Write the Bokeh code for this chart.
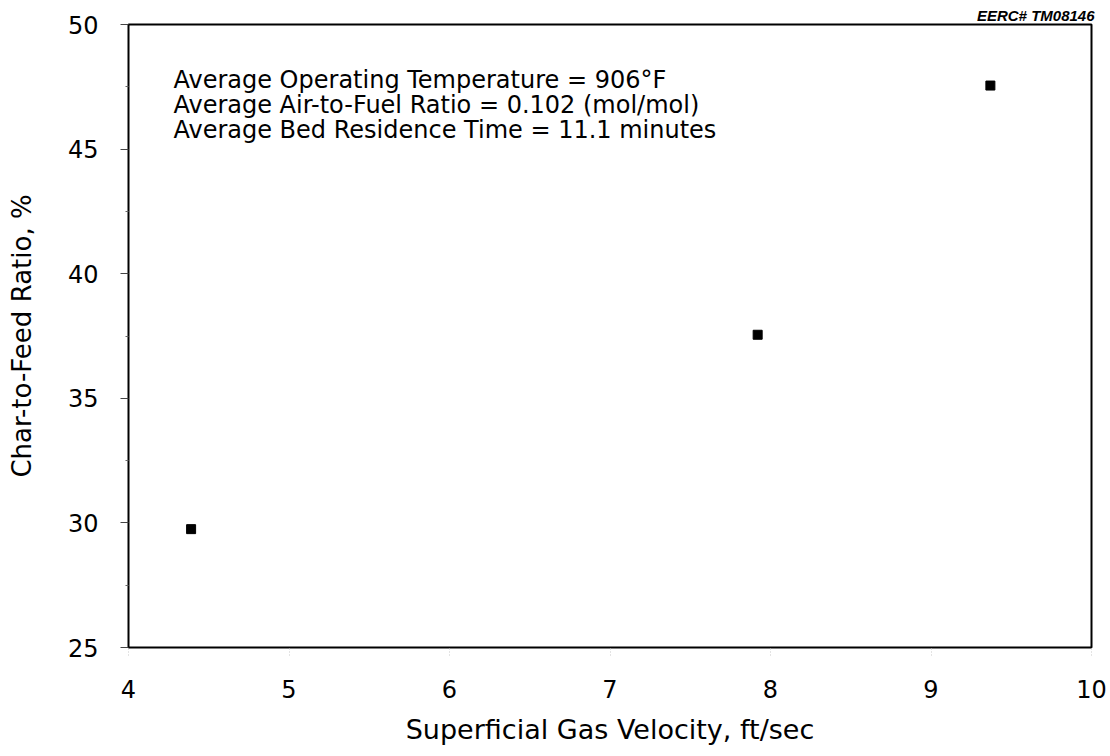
from bokeh.plotting import figure
from bokeh.models import Range1d, FixedTicker, Label, ColumnDataSource
from bokeh.embed import file_html
from bokeh.resources import INLINE

# Data
velocity = [4.39, 7.92, 9.37]          # Superficial gas velocity, ft/sec
char_ratio = [29.75, 37.55, 47.55]     # Char-to-feed ratio, %

x_ticks = [4, 5, 6, 7, 8, 9, 10]
y_ticks = [25, 30, 35, 40, 45, 50]
y_minor = [27.5, 32.5, 37.5, 42.5, 47.5]

notes = [
    "Average Operating Temperature = 906\u00b0F",
    "Average Air-to-Fuel Ratio = 0.102 (mol/mol)",
    "Average Bed Residence Time = 11.1 minutes",
]
note_y = [47.77, 46.77, 45.76]
stamp = "EERC# TM08146"

FONT = "DejaVu Sans"

p = figure(width=1110, height=756, output_backend="svg", toolbar_location=None,
           x_range=Range1d(4, 10), y_range=Range1d(25, 50),
           min_border_left=128, min_border_right=19, min_border_top=24,
           min_border_bottom=109, title=stamp)

p.title.align = "right"
p.title.text_font = "Liberation Sans"
p.title.text_font_size = "15px"
p.title.text_font_style = "bold italic"
p.title.text_color = "black"
p.title.standoff = 1
p.title.offset = -3

p.background_fill_color = "white"
p.border_fill_color = "white"
p.outline_line_color = "black"
p.outline_line_width = 2
p.xgrid.visible = False
p.ygrid.visible = False

src = ColumnDataSource(dict(x=velocity, y=char_ratio))
p.scatter("x", "y", source=src, marker="square", size=9, color="black")

# X axis
xa = p.xaxis[0]
xa.ticker = FixedTicker(ticks=x_ticks)
xa.axis_line_color = None
xa.major_tick_in = 0
xa.major_tick_out = 8
xa.major_tick_line_color = "#c8c8c8"
xa.major_tick_line_dash = "1 2"
xa.minor_tick_line_color = None
xa.major_label_standoff = 24
xa.major_label_text_font = FONT
xa.major_label_text_font_size = "24px"
xa.major_label_text_color = "black"
xa.axis_label = "Superficial Gas Velocity, ft/sec"
xa.axis_label_text_font = FONT
xa.axis_label_text_font_size = "27px"
xa.axis_label_text_font_style = "normal"
xa.axis_label_text_color = "black"
xa.axis_label_standoff = 13

# Y axis
ya = p.yaxis[0]
ya.ticker = FixedTicker(ticks=y_ticks, minor_ticks=y_minor)
ya.axis_line_color = None
ya.major_tick_in = 0
ya.major_tick_out = 8
ya.major_tick_line_color = "#444444"
ya.minor_tick_in = 0
ya.minor_tick_out = 3
ya.minor_tick_line_color = "#666666"
ya.major_label_standoff = 22
ya.major_label_text_font = FONT
ya.major_label_text_font_size = "24px"
ya.major_label_text_color = "black"
ya.axis_label = "Char-to-Feed Ratio, %"
ya.axis_label_text_font = FONT
ya.axis_label_text_font_size = "26px"
ya.axis_label_text_font_style = "normal"
ya.axis_label_text_color = "black"
ya.axis_label_standoff = 28

for txt, yy in zip(notes, note_y):
    p.add_layout(Label(x=4.28, y=yy, text=txt, text_font=FONT,
                       text_font_size="24px", text_color="black",
                       text_baseline="alphabetic", text_align="left"))

open("out.html", "w").write(file_html(p, INLINE))
